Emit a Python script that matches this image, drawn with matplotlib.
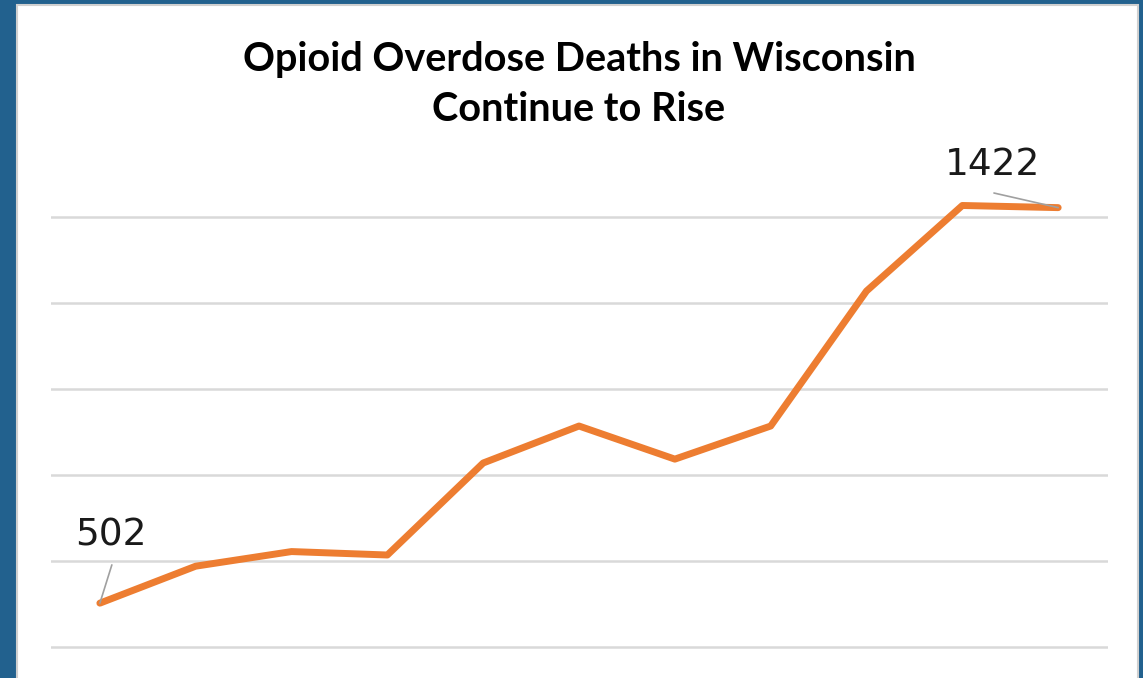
import matplotlib.pyplot as plt
from matplotlib.patches import Rectangle

# data
years = list(range(2006, 2017))
deaths = [502, 588, 622, 614, 828, 914, 837, 914, 1228, 1427, 1422]
grid_values = [400, 600, 800, 1000, 1200, 1400]
title_lines = ['Opioid Overdose Deaths in Wisconsin', 'Continue to Rise']

W, H = 1143, 678
fig = plt.figure(figsize=(W / 100, H / 100), dpi=100)
fig.patch.set_facecolor('#22618e')

# white slide panel behind the chart
panel = Rectangle((17 / W, -0.01), 1121 / W, 1 - 5 / H + 0.01,
                  transform=fig.transFigure, facecolor='white',
                  edgecolor='#d0d0d0', linewidth=1.5, zorder=-5)
fig.add_artist(panel)

ax = fig.add_axes([51 / W, 26.7 / H, 1057 / W, 477.2 / H])
ax.set_zorder(1)
ax.set_facecolor('none')
x = list(range(len(years)))
ax.plot(x, deaths, color='#ED7D31', linewidth=5, solid_joinstyle='round',
        solid_capstyle='round', clip_on=False, zorder=3)

ax.set_xlim(-0.51, 10.52)
ax.set_ylim(390, 1500)
ax.set_yticks(grid_values)
ax.grid(axis='y', color='#d9d9d9', linewidth=1.8)
ax.tick_params(left=False, bottom=False, labelleft=False, labelbottom=False)
for s in ax.spines.values():
    s.set_visible(False)

# data labels for first and last point, with grey leader lines
lbl = dict(ha='center', va='baseline', fontsize=27, family='DejaVu Sans', color='#1a1a1a')
leader = dict(arrowstyle='-', color='#a0a0a0', lw=1.2, shrinkA=0, shrinkB=0)
ax.text(x[0] + 0.115, 635, str(deaths[0]), **lbl)
ax.annotate('', xy=(x[0], deaths[0]), xytext=(x[0] + 0.125, 591), arrowprops=leader)
ax.text(x[-1] - 0.68, 1498, str(deaths[-1]), clip_on=False, **lbl)
ax.annotate('', xy=(x[-1], deaths[-1]), xytext=(x[-1] - 0.67, 1456), arrowprops=leader,
            annotation_clip=False)

# two-line title
fig.text(579 / W, 1 - 71 / H, title_lines[0], ha='center', va='baseline', fontsize=28.5,
         fontweight='bold', family='Lato', color='black')
fig.text(579 / W, 1 - 121 / H, title_lines[1], ha='center', va='baseline', fontsize=28.5,
         fontweight='bold', family='Lato', color='black')

fig.savefig('out.png', dpi=100, facecolor=fig.get_facecolor())
